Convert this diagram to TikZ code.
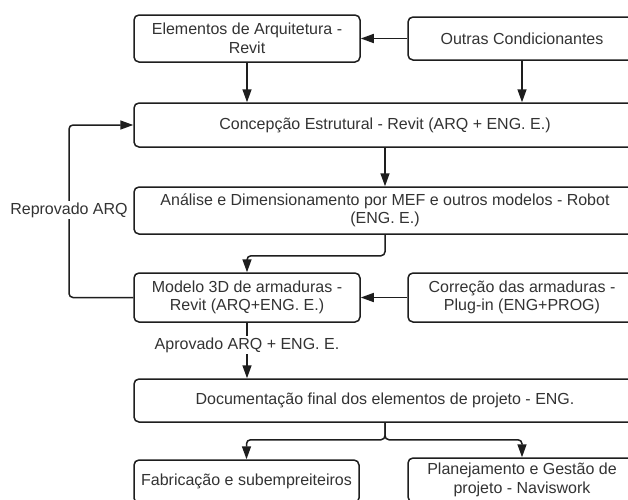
\documentclass[tikz,border=0pt]{standalone}
\usepackage{fontspec}
\setmainfont{Liberation Sans}
\usetikzlibrary{arrows.meta}
\definecolor{txt}{HTML}{333333}
\definecolor{ln}{HTML}{1E1E1E}
\begin{document}
\begin{tikzpicture}[x=1pt,y=-1pt,
  box/.style={draw=ln, line width=1.5pt, rounded corners=5pt, align=center,
    text=txt, font=\fontsize{16}{18.5}\selectfont, inner sep=0pt},
  arr/.style={draw=ln, line width=1.5pt, -{Triangle[length=13pt,width=9pt]}, rounded corners=4pt},
  lbl/.style={fill=white, text=txt, font=\fontsize{16}{18.5}\selectfont, inner sep=2pt}]
\useasboundingbox (0,0) rectangle (628,499);
\clip (0,0) rectangle (628,499);
\fill[white] (0,0) rectangle (628,499);
\node[box, minimum width=226pt, minimum height=47pt] (b1) at (247,38.5) {Elementos de Arquitetura -\\Revit};
\node[box, minimum width=228pt, minimum height=43pt] (b2) at (522,38.5) {Outras Condicionantes};
\node[box, minimum width=502pt, minimum height=44pt] (b3) at (385,125) {Concepção Estrutural - Revit (ARQ + ENG. E.)};
\node[box, minimum width=502pt, minimum height=47pt] (b4) at (385,210.5) {Análise e Dimensionamento por MEF e outros modelos - Robot\\(ENG. E.)};
\node[box, minimum width=226pt, minimum height=49pt] (b5) at (247,297.5) {Modelo 3D de armaduras -\\Revit (ARQ+ENG. E.)};
\node[box, minimum width=228pt, minimum height=49pt] (b6) at (522,297.5) {Correção das armaduras -\\Plug-in (ENG+PROG)};
\node[box, minimum width=502pt, minimum height=43pt] (b7) at (385,400.5) {Documentação final dos elementos de projeto - ENG.};
\node[box, minimum width=225pt, minimum height=43pt] (b8) at (246.5,481.5) {Fabricação e subempreiteiros};
\node[box, minimum width=228pt, minimum height=44pt] (b9) at (522,480) {Planejamento e Gestão de\\projeto - Naviswork};
\coordinate (loop) at (69,210);
% connectors
\draw[arr] (b2.west) -- (b1.east);
\draw[arr] (b1.south) -- (b1.south |- b3.north);
\draw[arr] (b2.south) -- (b2.south |- b3.north);
\draw[arr] (b3.south) -- (b4.north);
\draw[arr] (b4.south) -- ++(0,21) -| (b5.north);
\draw[arr] (b6.west) -- (b5.east);
\draw[arr] (b5.west) -| (loop) |- (b3.west);
\node[lbl] (rep) at (loop) {Reprovado ARQ};
\draw[arr] (b5.south) -- (b5.south |- b7.north);
\node[lbl] (apr) at (247,345) {Aprovado ARQ + ENG. E.};
\draw[arr] (b7.south) -- ++(0,17) -| (b8.north);
\draw[arr] (b7.south) -- ++(0,17) -| (b9.north);
\end{tikzpicture}
\end{document}
